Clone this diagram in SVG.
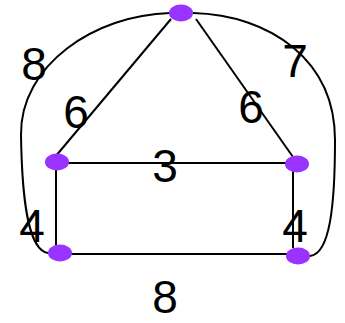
<svg xmlns="http://www.w3.org/2000/svg" width="345" height="323" viewBox="0 0 345 323">
<style>
.e{fill:none;stroke:#000;stroke-width:2}
.n{fill:#9933ff}
.l{font-family:"Liberation Sans",Arial,sans-serif;font-size:46px;fill:#000;text-anchor:middle}
</style>
<rect width="345" height="323" fill="#fff"/>
<g id="edges">
<path class="e" d="M170,13 C95,15 20,65 21,135 C22,200 28,250 48,253"/>
<path class="e" d="M193,13 C270,15 335,60 335,140 C335,205 330,254 310,256"/>
<line class="e" x1="171" y1="19" x2="55" y2="157"/>
<line class="e" x1="196" y1="19" x2="293" y2="157"/>
<line class="e" x1="63" y1="163" x2="293" y2="163"/>
<line class="e" x1="56" y1="163" x2="56" y2="246"/>
<line class="e" x1="293" y1="170" x2="293" y2="248"/>
<line class="e" x1="70" y1="254" x2="288" y2="254"/>
</g>
<g id="labels">
<text class="l" x="34" y="80">8</text>
<text class="l" x="76" y="128">6</text>
<text class="l" x="295" y="77">7</text>
<text class="l" x="251" y="123">6</text>
<text class="l" x="165" y="182">3</text>
<text class="l" x="32" y="242">4</text>
<text class="l" x="295" y="242">4</text>
<text class="l" x="165" y="313">8</text>
</g>
<g id="nA"><ellipse class="n" cx="181" cy="13" rx="12" ry="8.5"/></g>
<g id="nB"><ellipse class="n" cx="57" cy="162" rx="12" ry="8.5"/></g>
<g id="nC"><ellipse class="n" cx="297" cy="164" rx="12" ry="8.5"/></g>
<g id="nD"><ellipse class="n" cx="60" cy="253" rx="12" ry="8.5"/></g>
<g id="nE"><ellipse class="n" cx="298" cy="256" rx="12" ry="8.5"/></g>
</svg>
